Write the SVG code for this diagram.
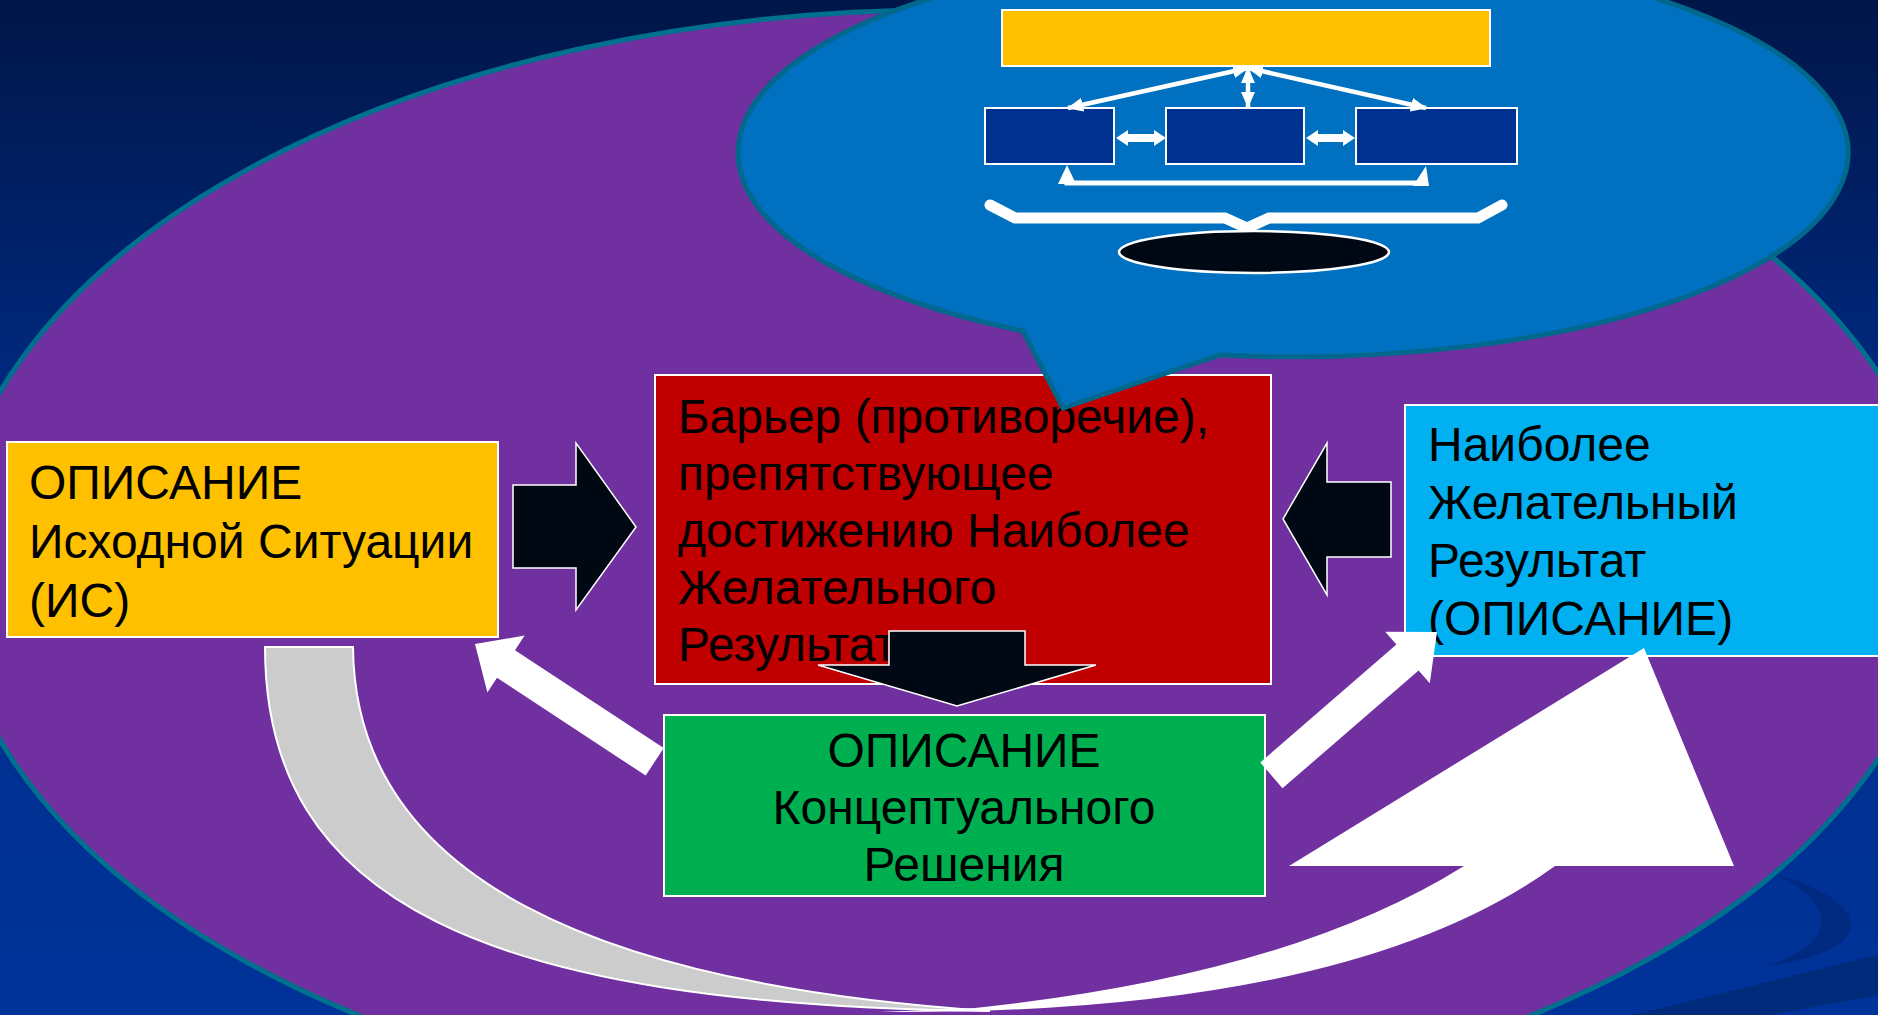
<svg xmlns="http://www.w3.org/2000/svg" width="1878" height="1015" viewBox="0 0 1878 1015">
<defs>
<linearGradient id="bg" x1="0" y1="0" x2="0" y2="1">
<stop offset="0" stop-color="#001648"/>
<stop offset="0.45" stop-color="#002c88"/>
<stop offset="1" stop-color="#003399"/>
</linearGradient>
<marker id="ah" markerUnits="userSpaceOnUse" markerWidth="16" markerHeight="14" refX="15" refY="7" orient="auto-start-reverse" viewBox="0 0 16 14">
<path d="M0,0 L16,7 L0,14 Z" fill="#FFFFFF"/>
</marker>
</defs>
<style>
.box{stroke:#FFFFFF;stroke-width:2}
.t{font-family:"Liberation Sans",Arial,sans-serif;font-size:48px;fill:#000000}
.blk{fill:#000814;stroke:#FFFFFF;stroke-width:1.5}
.wht{fill:#FFFFFF}
.wl{stroke:#FFFFFF;stroke-width:4.5;fill:none}
</style>
<rect x="0" y="0" width="1878" height="1015" fill="url(#bg)"/>
<path d="M1773,873 C1870,900 1885,950 1767,966 C1838,942 1840,905 1773,873 Z" fill="#002a80"/>
<path d="M1633,1015 L1878,955 L1878,995 L1770,1015 Z" fill="#002a7a"/>
<ellipse id="cycle" cx="945" cy="566" rx="995" ry="556" fill="#7030A0" stroke="#00708F" stroke-width="5"/>

<g id="node-initial">
<rect class="box" x="7" y="442" width="491" height="195" fill="#FFC000"/>
<text class="t" x="29" y="499">ОПИСАНИЕ</text>
<text class="t" x="29" y="558">Исходной Ситуации</text>
<text class="t" x="29" y="617">(ИС)</text>
</g>
<g id="node-barrier">
<rect class="box" x="655" y="375" width="616" height="309" fill="#C00000"/>
<text class="t" x="678" y="433">Барьер (противоречие),</text>
<text class="t" x="678" y="490">препятствующее</text>
<text class="t" x="678" y="547">достижению Наиболее</text>
<text class="t" x="678" y="604">Желательного</text>
<text class="t" x="678" y="661">Результата</text>
</g>
<g id="node-ideal">
<rect class="box" x="1405" y="405" width="480" height="251" fill="#00B0F0"/>
<text class="t" x="1428" y="461">Наиболее</text>
<text class="t" x="1428" y="519">Желательный</text>
<text class="t" x="1428" y="577">Результат</text>
<text class="t" x="1428" y="635">(ОПИСАНИЕ)</text>
</g>
<g id="node-solution">
<rect class="box" x="664" y="715" width="601" height="181" fill="#00B050"/>
<text class="t" x="964" y="767" text-anchor="middle">ОПИСАНИЕ</text>
<text class="t" x="964" y="824" text-anchor="middle">Концептуального</text>
<text class="t" x="964" y="881" text-anchor="middle">Решения</text>
</g>

<g id="node-callout">
<path d="M1023,331 L1063,408 L1220,355 A555 204 0 1 0 1023,331 Z" fill="#0070C0" stroke="#00688C" stroke-width="5"/>
<rect class="box" x="1002" y="10" width="488" height="56" fill="#FFC000"/>
<rect class="box" x="985" y="108" width="129" height="56" fill="#003090"/>
<rect class="box" x="1166" y="108" width="138" height="56" fill="#003090"/>
<rect class="box" x="1356" y="108" width="161" height="56" fill="#003090"/>
<line class="wl" x1="1248" y1="68" x2="1068" y2="108" marker-start="url(#ah)" marker-end="url(#ah)"/>
<line class="wl" x1="1248" y1="68" x2="1426" y2="108" marker-start="url(#ah)" marker-end="url(#ah)"/>
<line class="wl" x1="1248" y1="68" x2="1248" y2="107" marker-start="url(#ah)" marker-end="url(#ah)"/>
<path class="wht" d="M1116,138 L1128,130 L1128,134 L1154,134 L1154,130 L1166,138 L1154,146 L1154,142 L1128,142 L1128,146 Z"/>
<path class="wht" d="M1306,138 L1318,130 L1318,134 L1343,134 L1343,130 L1355,138 L1343,146 L1343,142 L1318,142 L1318,146 Z"/>
<path d="M1067,180 L1067,183 L1425,183 L1425,180" fill="none" stroke="#FFFFFF" stroke-width="5"/>
<path class="wht" d="M1067,165 L1058,184 L1076,184 Z"/>
<path class="wht" d="M1426,166 L1413,186 L1429,186 Z"/>
<polyline points="990,205 1015,218 1225,218 1247,228 1269,218 1478,218 1502,205" fill="none" stroke="#FFFFFF" stroke-width="11" stroke-linecap="round" stroke-linejoin="miter"/>
<ellipse cx="1254" cy="252" rx="135" ry="21" fill="#000814" stroke="#FFFFFF" stroke-width="2.5"/>
</g>

<g id="connectors">
<path class="blk" d="M513,485 L576,485 L576,443 L636,527 L576,610 L576,568 L513,568 Z"/>
<path class="blk" d="M1391,482 L1327,482 L1327,443 L1283,519 L1327,595 L1327,557 L1391,557 Z"/>
<path class="blk" d="M889,631 L1025,631 L1025,665 L1096,665 L957,706 L818,665 L889,665 Z"/>
<path class="wht" d="M475,644 L524.6,635.6 L515,650.2 L663.7,748 L645.7,775.6 L497,677.8 L487.4,692.4 Z"/>
<path class="wht" d="M1437,632 L1429.8,683.2 L1418.6,670.4 L1282.5,788.3 L1260.3,762.5 L1396.4,644.6 L1385.2,631.8 Z"/>
<path d="M265,647 L353,647 C355,880 600,985 990,1011 C480,1005 265,900 265,647 Z" fill="#CCCCCC" stroke="#FFFFFF" stroke-width="2"/>
<path class="wht" d="M880,1012 Q1350,1015 1555,866 L1734,866 L1644,648 L1289,866 L1464,866 Q1290,975 975,1008 Z"/>
</g>
</svg>
